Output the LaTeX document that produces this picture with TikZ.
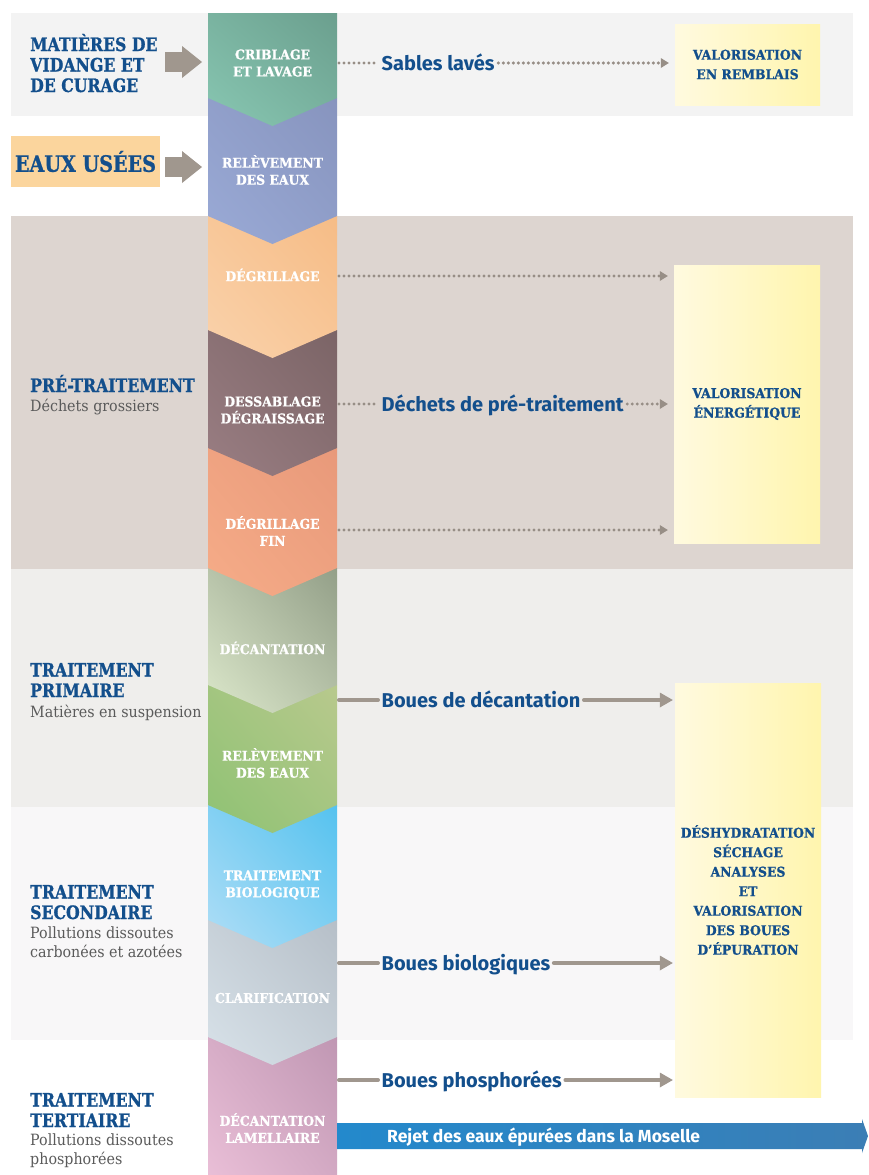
\documentclass[tikz,border=0pt]{standalone}
\usepackage{fontspec}
\setmainfont{Fira Sans}
\newfontfamily\slabfont[FakeStretch=0.92, BoldFeatures={FakeBold=1}]{DejaVu Serif}
\newfontfamily\headfont[FakeStretch=0.85, BoldFeatures={FakeBold=1}]{DejaVu Serif}
\usetikzlibrary{arrows.meta, shadings}

\definecolor{bandA}{HTML}{F3F3F3}
\definecolor{bandB}{HTML}{DDD5D0}
\definecolor{bandC}{HTML}{EFEEEC}
\definecolor{bandD}{HTML}{F8F7F8}
\definecolor{titleblue}{HTML}{134F8C}
\definecolor{flowgray}{HTML}{A0978E}
\definecolor{dotgray}{HTML}{978E86}
\definecolor{subgray}{HTML}{5A5A5A}
\definecolor{usees}{HTML}{FBD59D}
\definecolor{boxlight}{HTML}{FFFADF}
\definecolor{boxdark}{HTML}{FFF5AE}
\definecolor{rejetA}{HTML}{2389CC}
\definecolor{rejetB}{HTML}{3B7EB5}
% chevrons: light (lower left) / dark (upper right)
\definecolor{cribL}{HTML}{88C7B2}  \definecolor{cribD}{HTML}{6B9F8E}
\definecolor{relaL}{HTML}{9AAAD6}  \definecolor{relaD}{HTML}{8794BE}
\definecolor{degrL}{HTML}{FAD2AB}  \definecolor{degrD}{HTML}{F6BC86}
\definecolor{dessL}{HTML}{9A7E83}  \definecolor{dessD}{HTML}{7B6466}
\definecolor{finL}{HTML}{F6AC88}   \definecolor{finD}{HTML}{E8997A}
\definecolor{decaL}{HTML}{DCE8CB}  \definecolor{decaD}{HTML}{939F88}
\definecolor{relbL}{HTML}{8EC273}  \definecolor{relbD}{HTML}{B8C98D}
\definecolor{bioL}{HTML}{B0DEF6}   \definecolor{bioD}{HTML}{55C2EF}
\definecolor{clarL}{HTML}{D8E2E9}  \definecolor{clarD}{HTML}{B6BFC8}
\definecolor{lameL}{HTML}{EDC2DA}  \definecolor{lameD}{HTML}{C097B3}

\tikzset{
  steplabel/.style={text=white, align=center, inner sep=0pt,
    font=\slabfont\bfseries\fontsize{13.5}{17}\selectfont},
  heading/.style={text=titleblue, align=left, inner sep=0pt, anchor=base west,
    font=\headfont\bfseries\fontsize{18.5}{20.5}\selectfont},
  subline/.style={text=subgray, align=left, inner sep=0pt, anchor=base west,
    font=\slabfont\fontsize{15.5}{19}\selectfont},
  flowlabel/.style={text=titleblue, inner sep=3.5pt, anchor=west,
    text height=14pt, text depth=0pt, font=\bfseries\fontsize{20}{24}\selectfont},
  valbox/.style={left color=boxlight, right color=boxdark, text=titleblue,
    align=center, inner sep=0pt, font=\slabfont\bfseries\fontsize{13.5}{19.5}\selectfont},
  dotflow/.style={dotgray, line width=3.4pt, line cap=round,
    dash pattern=on 0pt off 5pt},
  dottip/.style={-{Triangle[length=8pt,width=10pt,line width=0pt]}, shorten >=6pt},
  solidflow/.style={flowgray, line width=4pt, line cap=round},
  solidtip/.style={-{Triangle[length=13pt,width=15pt,line width=0pt]}, shorten >=2pt},
  feed/.style={flowgray, line width=20pt,
    -{Triangle[length=20pt,width=32pt,line width=0pt]}}
}

\begin{document}
\begin{tikzpicture}[x=1pt, y=-1pt]
  \useasboundingbox (0,0) rectangle (868,1175);
  \fill[white] (0,0) rectangle (868,1175);

  % bands
  \fill[bandA] (11,13) rectangle (853,116);
  \fill[bandB] (11,216) rectangle (853,569);
  \fill[bandC] (11,569) rectangle (853,807);
  \fill[bandD] (11,807) rectangle (853,1040);

  % column of chevrons, drawn from the bottom up
  \def\cd{28} % chevron depth
  \foreach \yt/\yb/\cl in {1037/1175/lame, 920/1037/clar, 805/920/bio,
      685/805/relb, 568/685/deca, 448/568/fin, 330/448/dess,
      216/330/degr, 98/216/rela, 13/98/crib}
    \shade[lower left=\cl L, upper right=\cl D, upper left=\cl L!50!\cl D,
        lower right=\cl L!50!\cl D]
      (208,\yt) -- (337,\yt) -- (337,\yb) -- (272.5,\yb+\cd) -- (208,\yb) -- cycle;

  \foreach \n/\y/\txt in {crib/63/{CRIBLAGE\\ET LAVAGE}, rel1/170/{RELÈVEMENT\\DES EAUX},
      degr/275/{DÉGRILLAGE}, dess/410/{DESSABLAGE\\DÉGRAISSAGE},
      degrf/531/{DÉGRILLAGE\\FIN}, deca/648/{DÉCANTATION},
      rel2/763/{RELÈVEMENT\\DES EAUX}, bio/885/{TRAITEMENT\\BIOLOGIQUE},
      clar/998/{CLARIFICATION}, lame/1128/{DÉCANTATION\\LAMELLAIRE}}
    \node[steplabel] (\n) at (272.5,\y) {\txt};

  % left headings (base = last line)
  \node[heading] (vidange) at (30,92) {MATIÈRES DE\\VIDANGE ET\\DE CURAGE};
  \node[fill=usees, minimum width=149pt, minimum height=51pt, inner sep=0pt,
    text=titleblue, font=\headfont\bfseries\fontsize{22.5}{24}\selectfont]
    (usees) at (85.5,161.5) {EAUX USÉES};
  \node[heading] (pre) at (30,392) {PRÉ-TRAITEMENT};
  \node[subline] (preS) at (30,411) {Déchets grossiers};
  \node[heading] (prim) at (30,697) {TRAITEMENT\\PRIMAIRE};
  \node[subline] (primS) at (30,717) {Matières en suspension};
  \node[heading] (sec) at (30,919) {TRAITEMENT\\SECONDAIRE};
  \node[subline] (secS) at (30,957) {Pollutions dissoutes\\carbonées et azotées};
  \node[heading] (ter) at (30,1127) {TRAITEMENT\\TERTIAIRE};
  \node[subline] (terS) at (30,1164) {Pollutions dissoutes\\phosphorées};

  % inputs
  \coordinate (inA) at (165,62);  \coordinate (inAe) at (202,62);
  \coordinate (inB) at (165,167); \coordinate (inBe) at (202,167);
  \draw[feed] (inA) -- (inAe);
  \draw[feed] (inB) -- (inBe);

  % destination boxes
  \node[valbox, minimum width=145pt, minimum height=81pt] (remb) at (747.5,64.5)
    {VALORISATION\\EN REMBLAIS};
  \node[valbox, minimum width=146pt, minimum height=278pt] (ener) at (747,404)
    {VALORISATION\\ÉNERGÉTIQUE};
  \node[valbox, minimum width=146pt, minimum height=414pt] (boues) at (748,890)
    {DÉSHYDRATATION\\SÉCHAGE\\ANALYSES\\ET\\VALORISATION\\DES BOUES\\D’ÉPURATION};

  % flows out of the column
  \coordinate (o1) at (339,63);
  \coordinate (o2) at (339,276);
  \coordinate (o3) at (339,404);
  \coordinate (o4) at (339,530);
  \coordinate (o5) at (339,700);
  \coordinate (o6) at (339,963);
  \coordinate (o7) at (339,1080);

  \node[flowlabel] (sables) at (378,63) {Sables lavés};
  \draw[dotflow] (o1) -- (sables);
  \draw[dotflow, dottip] (sables) -- (sables -| remb.west);

  \draw[dotflow, dottip] (o2) -- (o2 -| ener.west);
  \node[flowlabel] (dechets) at (378,404) {Déchets de pré-traitement};
  \draw[dotflow] (o3) -- (dechets);
  \draw[dotflow, dottip] (dechets) -- (dechets -| ener.west);
  \draw[dotflow, dottip] (o4) -- (o4 -| ener.west);

  \node[flowlabel] (bdeca) at (378,700) {Boues de décantation};
  \draw[solidflow] (o5) -- (bdeca);
  \draw[solidflow, solidtip] (bdeca) -- (bdeca -| boues.west);
  \node[flowlabel] (bbio) at (378,963) {Boues biologiques};
  \draw[solidflow] (o6) -- (bbio);
  \draw[solidflow, solidtip] (bbio) -- (bbio -| boues.west);
  \node[flowlabel] (bphos) at (378,1080) {Boues phosphorées};
  \draw[solidflow] (o7) -- (bphos);
  \draw[solidflow, solidtip] (bphos) -- (bphos -| boues.west);

  % discharge
  \shade[left color=rejetA, right color=rejetB] (337,1123) -- (862,1123) -- (862,1119)
    -- (868,1136) -- (862,1153) -- (862,1149) -- (337,1149) -- cycle;
  \node[anchor=west, inner sep=0pt, text=white, text height=12pt, text depth=0pt,
    font=\bfseries\fontsize{17.5}{20}\selectfont] (rejet) at (387,1136)
    {Rejet des eaux épurées dans la Moselle};
\end{tikzpicture}
\end{document}
